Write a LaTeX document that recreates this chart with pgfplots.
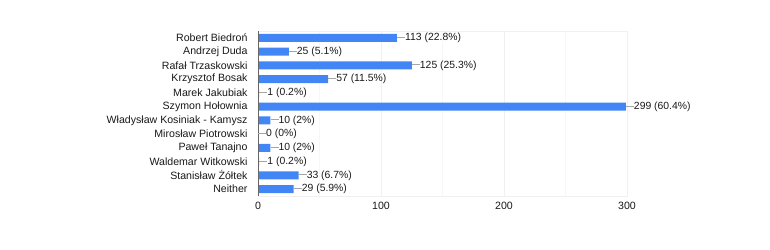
\documentclass[border=0pt]{standalone}
\usepackage{pgfplots}
\pgfplotsset{compat=1.18}
\usepackage{fontspec}
\setmainfont{Liberation Sans}
\definecolor{barblue}{HTML}{4285F4}
\begin{document}
\begin{tikzpicture}[x=1pt,y=1pt]
\path[use as bounding box] (0,0) rectangle (770,249);
\begin{axis}[
  at={(258pt,53pt)}, anchor=south west,
  scale only axis, width=369pt, height=165pt,
  xbar, bar width=8pt, bar shift=0pt,
  xmin=0, xmax=300, ymin=-0.5, ymax=11.5, y dir=reverse,
  xtick={0,100,200,300}, minor xtick={50,150,250},
  ytick={0,...,11},
  yticklabels={Robert Biedroń, Andrzej Duda, Rafał Trzaskowski, Krzysztof Bosak, Marek Jakubiak, Szymon Hołownia, Władysław Kosiniak - Kamysz, Mirosław Piotrowski, Paweł Tanajno, Waldemar Witkowski, Stanisław Żółtek, Neither},
  major tick length=0pt, minor tick length=0pt,
  xmajorgrids, xminorgrids,
  major grid style={draw=gray!12},
  minor grid style={draw=gray!6},
  axis line style={draw=gray!12},
  tick label style={font=\fontsize{10.6}{12}\selectfont, text=black!90},
  /pgf/number format/assume math mode=true,
  yticklabel style={xshift=-7pt},
  xticklabel style={yshift=-3pt},
  point meta=explicit symbolic,
  nodes near coords={\textcolor{gray!70}{\rule[0.3em]{8pt}{0.6pt}}\pgfplotspointmeta},
  nodes near coords style={anchor=west, inner sep=0pt, font=\fontsize{10.4}{12}\selectfont, text=black!90},
  clip=false,
]
\addplot[fill=barblue, draw=none] coordinates {
(113,0) [113 (22.8\%)]
(25,1) [25 (5.1\%)]
(125,2) [125 (25.3\%)]
(57,3) [57 (11.5\%)]
(1,4) [1 (0.2\%)]
(299,5) [299 (60.4\%)]
(10,6) [10 (2\%)]
(0,7) [0 (0\%)]
(10,8) [10 (2\%)]
(1,9) [1 (0.2\%)]
(33,10) [33 (6.7\%)]
(29,11) [29 (5.9\%)]
};
\draw[gray!80!black, line width=0.6pt] (axis cs:0,-0.5) -- (axis cs:0,11.5);
\end{axis}
\end{tikzpicture}
\end{document}
